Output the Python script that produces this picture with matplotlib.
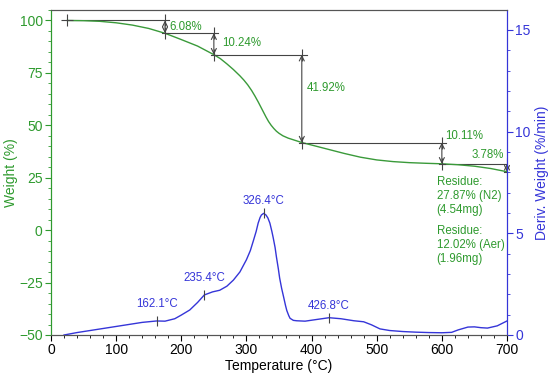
import matplotlib
matplotlib.use("Agg")
import matplotlib.pyplot as plt
from matplotlib.ticker import MultipleLocator

plt.rcParams['font.family'] = ['Liberation Sans', 'DejaVu Sans']

# TGA curve (Temperature °C, Weight %)
tga_T = [25, 50, 75, 100, 125, 150, 175, 200, 225, 250, 260, 270, 280, 290, 296, 302,
         308, 313, 318, 322, 326, 330, 334, 338, 342, 346, 350, 356, 364, 374, 385,
         400, 425, 450, 475, 500, 525, 550, 575, 600, 625, 650, 675, 700]
tga_W = [100, 99.9, 99.6, 98.9, 97.8, 96.2, 93.9, 90.9, 87.8, 83.7, 81.8, 79.3, 76.6,
         73.6, 71.6, 69.3, 66.6, 64.0, 61.2, 58.8, 56.4, 54.0, 51.8, 50.0, 48.5, 47.2,
         46.2, 45.0, 43.9, 42.9, 41.8, 40.6, 38.6, 36.6, 34.8, 33.5, 32.7, 32.2, 31.9,
         31.65, 31.2, 30.5, 29.4, 27.87]

# DTG curve (Temperature °C, Deriv. weight %/min)
dtg_T = [20, 40, 60, 80, 100, 120, 140, 162.1, 175, 190, 200, 213, 225, 235.4, 248, 259,
         270, 280, 290, 300, 306, 311, 315, 318, 321, 323, 326.4, 330, 333, 336, 339,
         341, 344, 346, 349, 351, 354, 357, 360, 362, 365, 367, 372, 377, 390, 405,
         426.8, 445, 465, 480, 492, 505, 520, 540, 560, 580, 600, 615, 625, 640, 650,
         660, 670, 685, 700]
dtg_V = [0.0, 0.12, 0.22, 0.32, 0.42, 0.52, 0.62, 0.69, 0.68, 0.8, 0.98, 1.23, 1.6, 1.97,
         2.12, 2.2, 2.4, 2.7, 3.1, 3.7, 4.15, 4.67, 5.1, 5.5, 5.78, 5.9, 5.98, 5.9, 5.75,
         5.5, 5.1, 4.8, 4.3, 3.85, 3.25, 2.8, 2.3, 1.88, 1.45, 1.2, 0.95, 0.82, 0.72, 0.7,
         0.68, 0.75, 0.85, 0.8, 0.7, 0.65, 0.5, 0.3, 0.22, 0.17, 0.14, 0.12, 0.11, 0.13,
         0.25, 0.39, 0.4, 0.36, 0.34, 0.45, 0.69]

# weight-loss steps
step_T = [175, 250, 385, 600, 700]
step_top = [100, 93.92, 83.68, 41.76, 31.65]
step_bot = [93.92, 83.68, 41.76, 31.65, 27.87]
step_labels = ["6.08%", "10.24%", "41.92%", "10.11%", "3.78%"]
start_T = 25

peak_T = [162.1, 235.4, 326.4, 426.8]
peak_V = [0.69, 1.97, 5.98, 0.85]
peak_labels = ["162.1°C", "235.4°C", "326.4°C", "426.8°C"]

GREEN = "#2e9a2e"
CURVE_G = "#3a9a3a"
BLUE = "#3535d8"
GRAY = "#444444"

fig = plt.figure(figsize=(5.5, 3.74), dpi=100)
ax = fig.add_axes([51/550, 1-335/374, 456/550, 325/374])
ax2 = ax.twinx()

ax.plot(tga_T, tga_W, color=CURVE_G, lw=1.0, zorder=3)
ax2.plot(dtg_T, dtg_V, color=BLUE, lw=1.0)

ax.set_xlim(0, 700)
ax.set_ylim(-50, 105)
ax2.set_ylim(0, 325/20.34)

# step annotations
ax.plot([start_T], [100], marker='+', color=GRAY, ms=8, mew=0.8, zorder=4)
prev = start_T
ext = [6, 6, 8, 6, 0]
for i, (t, a, b) in enumerate(zip(step_T, step_top, step_bot)):
    ax.plot([prev, t + ext[i]], [a, a], color=GRAY, lw=0.8, zorder=2)
    ax.annotate("", xy=(t, b), xytext=(t, a),
                arrowprops=dict(arrowstyle='<->', color=GRAY, lw=0.8,
                                shrinkA=0, shrinkB=0, mutation_scale=9), zorder=4)
    ax.plot([t, t], [a, b], ls='none', marker='|', color=GRAY, ms=8, mew=0.8, zorder=4)
    ax.plot([t - 5, t + 5], [b, b], color=GRAY, lw=0.8, zorder=4)
    prev = t

fs_ann = 8.3
ax.text(181, 96.9, step_labels[0], color=GREEN, fontsize=fs_ann, va='center', ha='left')
ax.text(263, 89.5, step_labels[1], color=GREEN, fontsize=fs_ann, va='center', ha='left')
ax.text(392, 67.9, step_labels[2], color=GREEN, fontsize=fs_ann, va='center', ha='left')
ax.text(605, 44.7, step_labels[3], color=GREEN, fontsize=fs_ann, va='center', ha='left')
ax.text(695, 35.9, step_labels[4], color=GREEN, fontsize=fs_ann, va='center', ha='right')

ax.text(592, 25.6, "Residue:\n27.87% (N2)\n(4.54mg)", color=GREEN, fontsize=fs_ann,
        va='top', ha='left', linespacing=1.2)
ax.text(592, 2.4, "Residue:\n12.02% (Aer)\n(1.96mg)", color=GREEN, fontsize=fs_ann,
        va='top', ha='left', linespacing=1.2)

# DTG peak markers
ax2.plot(peak_T, peak_V, ls='none', marker='|', color=GRAY, ms=7, mew=0.8)
offs = [0.83, 0.83, 0.61, 0.58]
for t, v, lab, o in zip(peak_T, peak_V, peak_labels, offs):
    ax2.text(t, v + o, lab, color=BLUE, fontsize=fs_ann, ha='center', va='center')

# axes styling
ax.xaxis.set_major_locator(MultipleLocator(100))
ax.xaxis.set_minor_locator(MultipleLocator(20))
ax.yaxis.set_major_locator(MultipleLocator(25))
ax.yaxis.set_minor_locator(MultipleLocator(5))
ax2.yaxis.set_major_locator(MultipleLocator(5))
ax2.yaxis.set_minor_locator(MultipleLocator(1))

ax.tick_params(axis='x', colors='black', labelsize=10, length=4, width=0.8, pad=2)
ax.tick_params(axis='x', which='minor', length=2.5, width=0.6)
ax.tick_params(axis='y', colors=GREEN, labelsize=10, length=4, width=0.8, pad=2)
ax.tick_params(axis='y', which='minor', length=2.5, width=0.6, colors=GREEN)
ax2.tick_params(axis='y', colors=BLUE, labelsize=10, length=4, width=0.8, pad=2)
ax2.tick_params(axis='y', which='minor', length=2.5, width=0.6, colors=BLUE)

for a in (ax, ax2):
    a.spines['top'].set_color('#555555')
    a.spines['bottom'].set_color('#555555')
    a.spines['left'].set_color(GREEN)
    a.spines['right'].set_color(BLUE)
    for s in a.spines.values():
        s.set_linewidth(0.8)

ax.set_xlabel("Temperature (°C)", fontsize=10, color='black', labelpad=1)
ax.set_ylabel("Weight (%)", fontsize=10, color=GREEN, labelpad=1)
ax2.set_ylabel("Deriv. Weight (%/min)", fontsize=10, color=BLUE, labelpad=3)

fig.savefig("out.png", dpi=100)
